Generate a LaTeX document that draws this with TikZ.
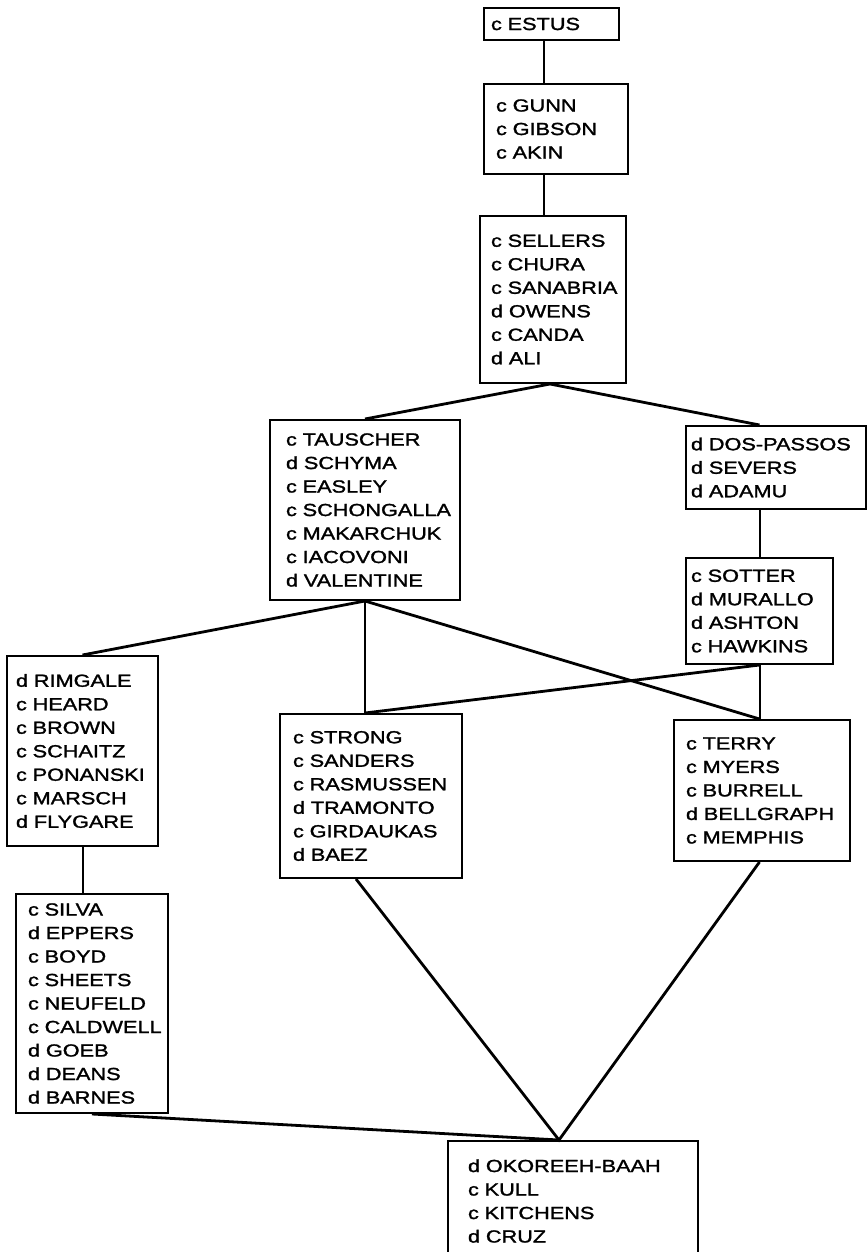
\documentclass[tikz,border=0pt]{standalone}
\usepackage{fontspec}
\setmainfont{Liberation Sans}[FakeStretch=1.24,FakeBold=1.5]
\usetikzlibrary{calc}
\newcommand\listfont{\fontsize{17.5}{23.5}\selectfont\hyphenpenalty 10000 \exhyphenpenalty 10000 }
\begin{document}
\begin{tikzpicture}[x=1pt,y=-1pt,
listbox/.style={draw,line width=2pt,anchor=north west,align=left,inner ysep=0pt,font={\listfont}},
edge/.style={line width=2.8pt},
thin/.style={line width=2pt}]
\path[use as bounding box,clip] (0,0) rectangle (867,1252);

\node[listbox,inner xsep=7pt,text width=121pt,minimum height=32pt] (estus) at (483,7) {c~ESTUS};
\node[listbox,inner xsep=12pt,text width=120pt,minimum height=90pt] (gunn) at (483,83)
  {c~GUNN\\c~GIBSON\\c~AKIN};
\node[listbox,inner xsep=11pt,text width=124pt,minimum height=167pt] (sellers) at (479,215)
  {c~SELLERS\\c~CHURA\\c~SANABRIA\\d~OWENS\\c~CANDA\\d~ALI};
\node[listbox,inner xsep=16pt,text width=158pt,minimum height=180pt] (tauscher) at (269,419)
  {c~TAUSCHER\\d~SCHYMA\\c~EASLEY\\c~SCHONGALLA\\c~MAKARCHUK\\c~IACOVONI\\d~VALENTINE};
\node[listbox,inner xsep=5pt,text width=170pt,minimum height=83pt] (dos) at (685,425)
  {d~DOS-PASSOS\\d~SEVERS\\d~ADAMU};
\node[listbox,inner xsep=5pt,text width=137pt,minimum height=106pt] (sotter) at (685,557)
  {c~SOTTER\\d~MURALLO\\d~ASHTON\\c~HAWKINS};
\node[listbox,inner xsep=9pt,text width=133pt,minimum height=190pt] (rimgale) at (6,655)
  {d~RIMGALE\\c~HEARD\\c~BROWN\\c~SCHAITZ\\c~PONANSKI\\c~MARSCH\\d~FLYGARE};
\node[listbox,inner xsep=13pt,text width=156pt,minimum height=164pt] (strong) at (279,713)
  {c~STRONG\\c~SANDERS\\c~RASMUSSEN\\d~TRAMONTO\\c~GIRDAUKAS\\d~BAEZ};
\node[listbox,inner xsep=12pt,text width=152pt,minimum height=141pt] (terry) at (673,719)
  {c~TERRY\\c~MYERS\\c~BURRELL\\d~BELLGRAPH\\c~MEMPHIS};
\node[listbox,inner xsep=12pt,text width=128pt,minimum height=219pt] (silva) at (15,893)
  {c~SILVA\\d~EPPERS\\c~BOYD\\c~SHEETS\\c~NEUFELD\\c~CALDWELL\\d~GOEB\\d~DEANS\\d~BARNES};
\node[listbox,inner xsep=20pt,text width=210pt,minimum height=120pt] (okoreeh) at (447,1140)
  {d~OKOREEH-BAAH\\c~KULL\\c~KITCHENS\\d~CRUZ};

\coordinate (top) at (544,0);
\draw[thin] (estus.south -| top) -- (gunn.north -| top);
\draw[thin] (gunn.south -| top) -- (sellers.north -| top);
\draw[edge] (tauscher.north) -- ($(sellers.south)+(-3,0)$) -- (dos.north -| sotter.north);
\draw[thin] (dos.south -| sotter.north) -- (sotter.north);
\draw[edge] (rimgale.north) -- (tauscher.south) -- (terry.north -| sotter.south);
\draw[thin] (tauscher.south) -- (tauscher.south |- strong.north);
\draw[edge] (tauscher.south |- strong.north) -- (sotter.south);
\draw[thin] (sotter.south) -- (terry.north -| sotter.south);
\draw[thin] (rimgale.south) -- (silva.north -| rimgale.south);
\draw[edge] (silva.south) -- ($(okoreeh.north)+(-14,0)$);
\draw[edge] ($(strong.south)+(-15,0)$) -- ($(okoreeh.north)+(-14,0)$) -- (terry.south -| sotter.south);

\end{tikzpicture}
\end{document}
